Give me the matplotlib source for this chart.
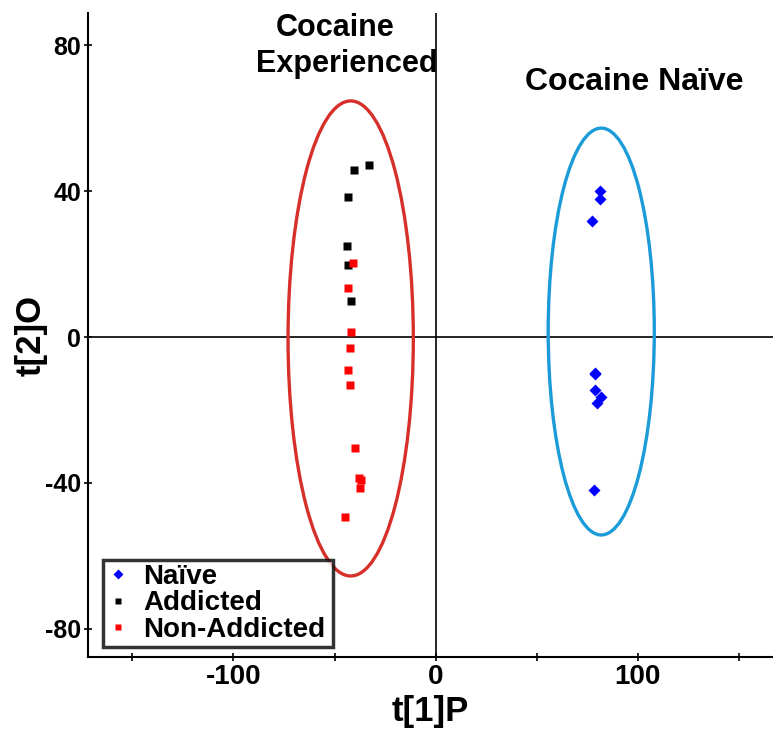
import matplotlib
matplotlib.use("Agg")
import matplotlib.pyplot as plt
from matplotlib.patches import Ellipse
from matplotlib.lines import Line2D

plt.rcParams['font.family'] = ['Liberation Sans', 'DejaVu Sans']
plt.rcParams['font.weight'] = 'bold'

# Data
naive_x = [81.6, 81.6, 77.3, 79.1, 79.1, 79.1, 82.1, 80.1, 78.6]
naive_y = [40.1, 37.7, 31.9, -9.9, -10.1, -14.5, -16.5, -18.0, -41.9]
addicted_x = [-33.1, -40.3, -43.5, -44.0, -43.5, -42.0]
addicted_y = [47.1, 45.7, 38.5, 24.9, 19.6, 9.9]
nonadd_x = [-40.7, -43.5, -42.0, -42.5, -43.5, -42.5, -39.9, -37.9, -36.7, -37.4, -44.8]
nonadd_y = [20.2, 13.4, 1.3, -3.1, -9.0, -13.2, -30.5, -38.7, -39.2, -41.3, -49.4]

# ellipses: center x, center y, width, height
exp_ellipse = (-42.0, -0.4, 62.0, 130.2)
naive_ellipse = (82.0, 1.5, 52.5, 111.5)

x_ticks = [-150, -100, -50, 0, 50, 100, 150]
x_ticklabels = ['', '-100', '', '0', '', '100', '']
y_ticks = [-80, -40, 0, 40, 80]
y_ticklabels = ['-80', '-40', '0', '40', '80']

fig = plt.figure(figsize=(7.73, 7.30), dpi=100)
ax = fig.add_axes([88/773, 73/730, 1 - 88/773, (657-13)/730])
ax.set_xlim(-172, 167)
ax.set_ylim(-87.7, 88.8)

for s in ['top', 'right']:
    ax.spines[s].set_visible(False)
for s in ['left', 'bottom']:
    ax.spines[s].set_linewidth(1.5)

ax.axhline(0, color='black', lw=1.2, zorder=1)
ax.axvline(0, color='black', lw=1.2, zorder=1)

cx, cy, w, h = exp_ellipse
ax.add_patch(Ellipse((cx, cy), w, h, fill=False, edgecolor='#d7302a', lw=2.4, zorder=2))
cx, cy, w, h = naive_ellipse
ax.add_patch(Ellipse((cx, cy), w, h, fill=False, edgecolor='#1b9bd8', lw=2.4, zorder=2))

ax.plot(naive_x, naive_y, 'D', color='#0000ff', ms=6.5, mec='none', zorder=3)
ax.plot(addicted_x, addicted_y, 's', color='black', ms=6, mec='none', zorder=3)
ax.plot(nonadd_x, nonadd_y, 's', color='#ff0000', ms=6, mec='none', zorder=3)

ax.set_xticks(x_ticks)
ax.set_xticklabels(x_ticklabels, fontsize=20, fontweight='bold')
ax.set_yticks(y_ticks)
ax.set_yticklabels(y_ticklabels, fontsize=18, fontweight='bold')
ax.tick_params(axis='both', direction='inout', length=6, width=1.2)
ax.tick_params(axis='x', pad=2)
ax.tick_params(axis='y', pad=2)

ax.set_xlabel('t[1]P', fontsize=25, fontweight='bold', labelpad=4)
ax.set_ylabel('t[2]O', fontsize=25, fontweight='bold', labelpad=-2)

ax.text(-49.5, 82.5, 'Cocaine', ha='center', va='baseline', fontsize=22,
        fontweight='bold', clip_on=False)
ax.text(-43.8, 72.6, 'Experienced', ha='center', va='baseline', fontsize=22,
        fontweight='bold', clip_on=False)
ax.text(98.3, 67.7, 'Cocaine Naïve', ha='center', va='baseline', fontsize=23,
        fontweight='bold', clip_on=False)

handles = [
    Line2D([], [], marker='D', color='#0000ff', ls='none', ms=5, mec='none'),
    Line2D([], [], marker='s', color='black', ls='none', ms=5, mec='none'),
    Line2D([], [], marker='s', color='#ff0000', ls='none', ms=5, mec='none'),
]
leg = ax.legend(handles, ['Naïve', 'Addicted', 'Non-Addicted'],
                loc='lower left', bbox_to_anchor=(15/685, 10/644, 230/685, 0.1),
                mode='expand',
                prop={'size': 20, 'weight': 'bold'}, frameon=True, fancybox=False,
                handlelength=0.8, handletextpad=0.5, labelspacing=0.02,
                borderpad=0.15, borderaxespad=0)
leg.get_frame().set_edgecolor('black')
leg.get_frame().set_linewidth(2.5)

fig.savefig('out.png', dpi=100)
